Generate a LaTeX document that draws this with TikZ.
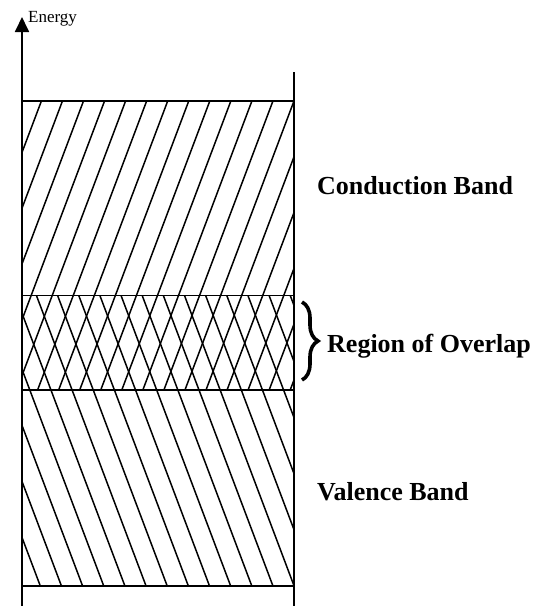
\documentclass[tikz,border=0pt]{standalone}
\usepackage{fontspec}
\setmainfont{Liberation Serif}
\usetikzlibrary{arrows.meta,decorations.pathreplacing}
\begin{document}
\begin{tikzpicture}[x=1pt,y=-1pt,
  frame/.style={line width=1.8pt,black},
  hatch/.style={line width=1.5pt,black},
  bandlabel/.style={font=\fontsize{26}{30}\selectfont\bfseries,anchor=base west,inner sep=0pt},
  axislabel/.style={font=\fontsize{17}{20}\selectfont,anchor=base west,inner sep=0pt}]
\useasboundingbox (0,0) rectangle (543,606);
% key coordinates
\coordinate (axisbot) at (22,606);
\coordinate (axistop) at (22,17);
\coordinate (rtop) at (294,72);
\coordinate (rbot) at (294,606);
\coordinate (a1) at (22,101);   \coordinate (b1) at (294,101);
\coordinate (a2) at (22,295.5); \coordinate (b2) at (294,295.5);
\coordinate (a3) at (22,390);   \coordinate (b3) at (294,390);
\coordinate (a4) at (22,585.7); \coordinate (b4) at (294,585.7);
\coordinate (bracetop) at (302,302);
\coordinate (bracebot) at (302,380);
% hatching: conduction band (extends into overlap)
\begin{scope}
\clip (a1) rectangle (b3);
\foreach \k in {-7,...,14}
  \draw[hatch] ({294-\k*21.05},101) -- ++({-320/2.65},320);
\end{scope}
% hatching: valence band (extends into overlap)
\begin{scope}
\clip (a2) rectangle (b4);
\foreach \k in {-7,...,14}
  \draw[hatch] ({294-\k*21.15},585.7) -- ++({-320/2.65},-320);
\end{scope}
% frame
\draw[frame,-{Triangle[width=14pt,length=15pt]}] (axisbot) -- (axistop);
\draw[frame] (rtop) -- (rbot);
\draw[frame] (a1) -- (b1);
\draw[frame] (a2) -- (b2);
\draw[frame] (a3) -- (b3);
\draw[frame] (a4) -- (b4);
% labels
\node[axislabel] (energy) at (28,22) {Energy};
\node[bandlabel] (cond) at (317,194) {Conduction Band};
\node[bandlabel] (overlap) at (327,352) {Region of Overlap};
\node[bandlabel] (val) at (317,500) {Valence Band};
\draw[line width=3.6pt,decorate,decoration={brace,amplitude=16pt}] (bracetop) -- (bracebot);
\end{tikzpicture}
\end{document}
